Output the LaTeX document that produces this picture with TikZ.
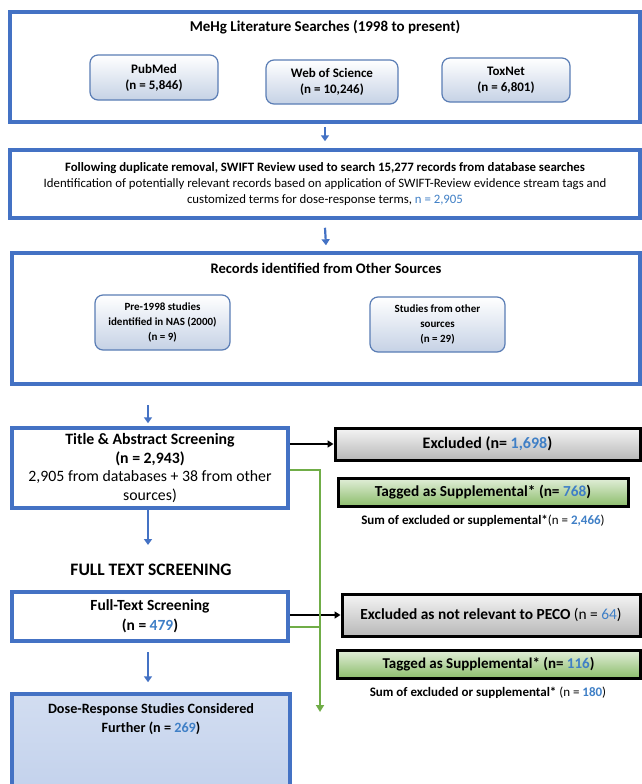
\documentclass[tikz,border=0pt]{standalone}
\usepackage{fontspec}
\setmainfont{Carlito}
\usetikzlibrary{arrows.meta,calc}
\definecolor{boxblue}{HTML}{4472C4}
\definecolor{subblue}{HTML}{5A7DB5}
\definecolor{numblue}{HTML}{3F7FC6}
\definecolor{gline}{HTML}{70AD47}
\tikzset{
  bigbox/.style={draw=boxblue, line width=3.5pt, fill=white, inner sep=0pt, align=center},
  subbox/.style={draw=subblue, line width=1.2pt, rounded corners=8pt, top color=white, bottom color=subblue!35, inner sep=0pt, align=center},
  exbox/.style={draw=black, line width=3pt, top color=black!4, bottom color=black!28, inner sep=0pt, align=center},
  tagbox/.style={draw=black, line width=3pt, top color=gline!20, bottom color=gline!80, inner sep=0pt, align=center},
  barrow/.style={draw=boxblue, line width=2.2pt, -{Triangle[width=8pt,length=6pt]}},
  karrow/.style={draw=black, line width=2pt, -{Triangle[width=7pt,length=6pt]}},
  garrow/.style={draw=gline, line width=2pt},
  plain/.style={inner sep=0pt, align=center},
}
\newcommand{\nb}[1]{\textcolor{numblue}{#1}}
\begin{document}
\begin{tikzpicture}[x=1pt,y=-1pt]
\useasboundingbox (0,0) rectangle (642,784);
\begin{scope}
\clip (0,0) rectangle (642,784);
% top box
\node[bigbox, minimum width=630pt, minimum height=110pt] (top) at (325,67) {};
\node[plain, font=\fontsize{15}{17}\selectfont\bfseries] (toptitle) at (325,27) {MeHg Literature Searches (1998 to present)};
\node[subbox, minimum width=128pt, minimum height=45pt, font=\fontsize{13}{16}\selectfont\bfseries] (pub) at (154,77.5) {PubMed\\(n = 5,846)};
\node[subbox, minimum width=132pt, minimum height=44pt, font=\fontsize{13}{16}\selectfont\bfseries] (wos) at (332,82) {Web of Science\\(n = 10,246)};
\node[subbox, minimum width=128pt, minimum height=44pt, font=\fontsize{13}{16}\selectfont\bfseries] (tox) at (506,80) {ToxNet\\(n = 6,801)};
% box 2
\node[bigbox, minimum width=630pt, minimum height=68pt, font=\fontsize{12.8}{16}\selectfont] (box2) at (325,184)
  {\textbf{Following duplicate removal, SWIFT Review used to search 15,277 records from database searches}\\
   Identification of potentially relevant records based on application of SWIFT-Review evidence stream tags and\\
   customized terms for dose-response terms, \nb{n = 2,905}};
% box 3
\node[bigbox, minimum width=628pt, minimum height=131pt] (box3) at (326,318.5) {};
\node[plain, font=\fontsize{14.6}{17}\selectfont\bfseries] (b3title) at (326,268) {Records identified from Other Sources};
\node[subbox, minimum width=135pt, minimum height=55pt, font=\fontsize{11}{15}\selectfont\bfseries] (pre) at (162.5,322.5) {Pre-1998 studies\\identified in NAS (2000)\\(n = 9)};
\node[subbox, minimum width=135pt, minimum height=55pt, font=\fontsize{11}{15}\selectfont\bfseries] (oth) at (437.5,324.5) {Studies from other\\sources\\(n = 29)};
% title & abstract
\node[bigbox, minimum width=276pt, minimum height=80pt, font=\fontsize{15.8}{18.5}\selectfont] (ta) at (150,468)
  {\textbf{Title \& Abstract Screening}\\\textbf{(n = 2,943)}\\2,905 from databases + 38 from other\\sources)};
\node[exbox, minimum width=305pt, minimum height=32pt, font=\fontsize{16}{18}\selectfont\bfseries] (exc1) at (487.5,444) {Excluded (n= \nb{1,698})};
\node[tagbox, minimum width=290pt, minimum height=28pt, font=\fontsize{15.3}{17}\selectfont\bfseries] (tag1) at (483,492) {Tagged as Supplemental* (n= \nb{768})};
\node[plain, font=\fontsize{13}{15}\selectfont] (sum1) at (483,521) {\textbf{Sum of excluded or supplemental*}(n = \textbf{\nb{2,466}})};
% full text
\node[plain, font=\fontsize{17.5}{20}\selectfont\bfseries] (ftslabel) at (151,570) {FULL TEXT SCREENING};
\node[bigbox, minimum width=276pt, minimum height=49pt, font=\fontsize{15.5}{20}\selectfont\bfseries] (ft) at (150,616.5) {Full-Text Screening\\(n = \nb{479})};
\node[exbox, minimum width=298pt, minimum height=42pt, font=\fontsize{15.4}{17}\selectfont] (exc2) at (491,615) {\textbf{Excluded as not relevant to PECO} (n = \nb{64})};
\node[tagbox, minimum width=303pt, minimum height=28pt, font=\fontsize{15}{17}\selectfont\bfseries] (tag2) at (488.5,664) {Tagged as Supplemental* (n= \nb{116})};
\node[plain, font=\fontsize{13}{15}\selectfont] (sum2) at (488,693) {\textbf{Sum of excluded or supplemental*} (n = \textbf{\nb{180}})};
% dose-response
\node[draw=boxblue, line width=3.5pt, top color=boxblue!24, middle color=boxblue!8, bottom color=boxblue!32, minimum width=278pt, minimum height=96pt, inner sep=0pt] (dr) at (151,742) {};
\node[plain, font=\fontsize{14.2}{19}\selectfont\bfseries] (drtext) at (151,719) {Dose-Response Studies Considered\\Further (n = \nb{269})};
\end{scope}
% arrows
\draw[barrow] ([yshift=-3pt]top.south) -- ([yshift=7pt]box2.north);
\draw[barrow] ([yshift=-8pt]box2.south) -- ([yshift=6pt]box3.north);
\coordinate (a3s) at (148,405);
\draw[barrow] (a3s) -- ([yshift=3pt]ta.north -| a3s);
\coordinate (a4e) at (148,545);
\draw[barrow] (a4e |- ta.south) -- (a4e);
\coordinate (a5s) at (148,652);
\draw[barrow] (a5s) -- ([yshift=10pt]dr.north -| a5s);
\draw[karrow] (ta.east |- exc1.west) -- (exc1.west);
\draw[karrow] (ft.east |- exc2.west) -- (exc2.west);
\coordinate (gdown) at (320,712);
\coordinate (tg) at ([yshift=-2pt]ta.east);
\draw[garrow, -{Triangle[width=8pt,length=7pt]}] (tg) -| (gdown);
\coordinate (fg) at ([yshift=-10pt]ft.east);
\draw[garrow] (fg) -- (fg -| gdown);
\end{tikzpicture}
\end{document}
